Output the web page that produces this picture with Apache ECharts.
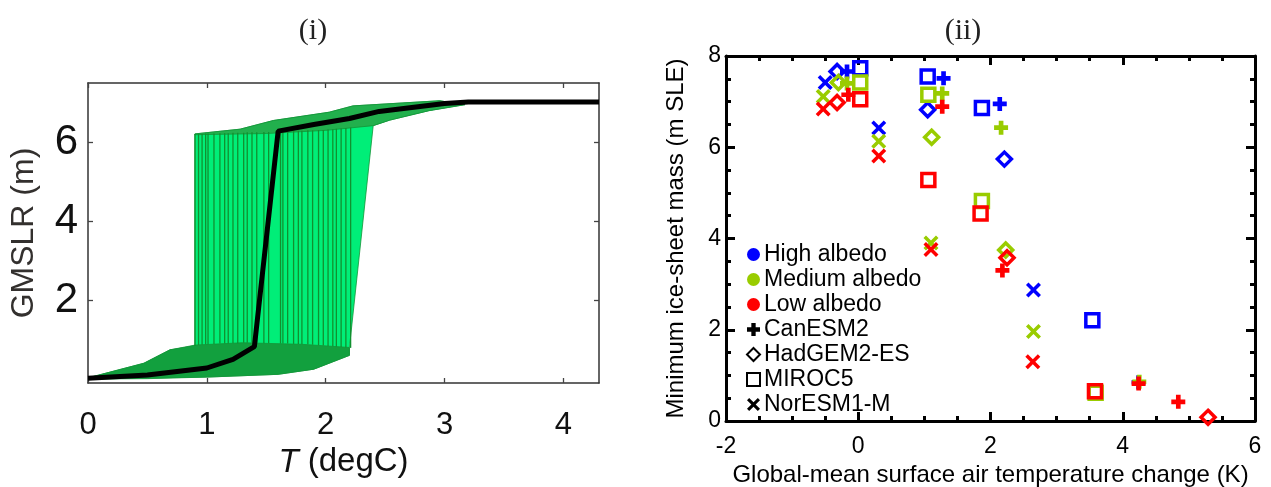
<!DOCTYPE html>
<html>
<head>
<meta charset="utf-8">
<script src="https://cdn.jsdelivr.net/npm/echarts@6/dist/echarts.min.js"></script>
<style>
	html, body { margin: 0; padding: 0; background: #fff; }
	#main { width: 1271px; height: 487px; }
</style>
</head>
<body>
<div id="main"></div>
<script>
	// ---- panel (i): GMSLR vs T ----
	// ensemble mean (black)
	const meanT = [0, 0.5, 1.0, 1.22, 1.4, 1.6, 1.9, 2.2, 2.45, 3.0, 3.2, 4.3];
	const meanSLR = [0.02, 0.1, 0.28, 0.5, 0.82, 6.28, 6.45, 6.6, 6.78, 6.98, 7.02, 7.02];

	// outline of the whole ensemble (bright green)
	const envT = [0, 0.47, 0.69, 0.9, 0.9, 1.28, 1.56, 2.03, 2.23, 2.96, 3.17, 2.87, 2.54, 2.4, 2.2, 2.2, 1.9, 1.6, 1.0, 0];
	const envSLR = [0.03, 0.4, 0.74, 0.84, 6.21, 6.33, 6.55, 6.76, 6.92, 7.05, 6.95, 6.8, 6.56, 6.42, 0.8, 0.6, 0.25, 0.12, 0.05, 0];

	// dense lower part (before the jump)
	const lowT = [0, 0.47, 0.69, 0.9, 1.3, 1.8, 2.2, 2.2, 1.9, 1.6, 1.0, 0.5, 0];
	const lowSLR = [0.03, 0.4, 0.74, 0.86, 0.92, 0.88, 0.8, 0.6, 0.25, 0.12, 0.05, 0.01, 0];

	// dense upper part (after the jump)
	const upT = [0.9, 1.28, 1.56, 2.03, 2.23, 2.96, 3.17, 2.87, 2.54, 2.4, 2.0, 1.5, 0.9];
	const upSLR = [6.21, 6.33, 6.55, 6.76, 6.92, 7.05, 6.95, 6.8, 6.56, 6.42, 6.3, 6.22, 6.19];

	// jump of each ensemble member
	const stepT = [0.90, 0.93, 0.96, 0.99, 1.01, 1.06, 1.11, 1.15, 1.18, 1.22, 1.26, 1.31, 1.34, 1.38, 1.42, 1.48, 1.52,
		1.62, 1.64, 1.68, 1.73, 1.77, 1.80, 1.85, 1.89, 1.94, 1.98, 2.02, 2.06, 2.09, 2.13, 2.17, 2.21];
	const stepLo = [0.84, 0.86, 0.87, 0.88, 0.88, 0.89, 0.9, 0.9, 0.9, 0.91, 0.91, 0.92, 0.92, 0.92, 0.92, 0.91, 0.91,
		0.9, 0.9, 0.9, 0.89, 0.89, 0.88, 0.88, 0.87, 0.86, 0.85, 0.84, 0.83, 0.82, 0.81, 0.8, 0.79];
	const stepHi = [6.21, 6.21, 6.21, 6.22, 6.22, 6.22, 6.23, 6.23, 6.23, 6.24, 6.24, 6.24, 6.25, 6.25, 6.25, 6.26, 6.26,
		6.27, 6.27, 6.28, 6.28, 6.29, 6.29, 6.3, 6.3, 6.31, 6.31, 6.32, 6.33, 6.34, 6.35, 6.36, 6.37];

	const leftXTicks = [0, 1, 2, 3, 4];
	const leftYTicks = [2, 4, 6];

	// ---- panel (ii): minimum ice-sheet mass vs warming ----
	// [temperature change (K), minimum mass (m SLE)]
	const canHigh = [[-0.17, 7.66], [1.29, 7.51], [2.14, 6.95], [4.24, 0.85]];
	const canMed = [[-0.17, 7.4], [1.27, 7.18], [2.16, 6.43], [4.25, 0.86]];
	const canLow = [[-0.15, 7.15], [1.27, 6.89], [2.18, 3.3], [4.24, 0.82], [4.84, 0.42]];

	const hadHigh = [[-0.32, 7.66], [1.05, 6.82], [2.21, 5.74]];
	const hadMed = [[-0.3, 7.42], [1.11, 6.22], [2.23, 3.75]];
	const hadLow = [[-0.32, 6.98], [2.25, 3.58], [5.29, 0.08]];

	const mirHigh = [[0.03, 7.73], [1.05, 7.55], [1.87, 6.86], [3.54, 2.21]];
	const mirMed = [[0.03, 7.42], [1.06, 7.15], [1.87, 4.82], [3.59, 0.62]];
	const mirLow = [[0.03, 7.05], [1.06, 5.28], [1.85, 4.55], [3.58, 0.65]];

	const norHigh = [[-0.5, 7.42], [0.31, 6.42], [2.65, 2.87]];
	const norMed = [[-0.53, 7.11], [0.31, 6.13], [1.1, 3.9], [2.65, 1.96]];
	const norLow = [[-0.53, 6.84], [0.31, 5.81], [1.1, 3.76], [2.64, 1.3]];

	const albedoNames = ['High albedo', 'Medium albedo', 'Low albedo'];
	const albedoColors = ['#0000ff', '#99cc00', '#ff0000'];
	const modelNames = ['CanESM2', 'HadGEM2-ES', 'MIROC5', 'NorESM1-M'];

	const symPlus = 'path://M-1,-3H1V-1H3V1H1V3H-1V1H-3V-1H-1Z';
	const symCross = 'path://M-3,-2L-2,-3L0,-1L2,-3L3,-2L1,0L3,2L2,3L0,1L-2,3L-3,2L-1,0Z';
	const symDiamond = 'path://M0,-1L1,0L0,1L-1,0Z';

	// marker look per model
	const modelSym = [
		{ symbol: symPlus, size: 14, hollow: false },
		{ symbol: symDiamond, size: 14, hollow: true },
		{ symbol: 'rect', size: 13, hollow: true },
		{ symbol: symCross, size: 15, hollow: false }
	];
	const modelData = [
		[canHigh, canMed, canLow],
		[hadHigh, hadMed, hadLow],
		[mirHigh, mirMed, mirLow],
		[norHigh, norMed, norLow]
	];

	function zip(xs, ys) {
		return xs.map(function (x, i) { return [x, ys[i]]; });
	}

	function polygonSeries(xs, ys, fill, z) {
		return {
			type: 'custom',
			xAxisIndex: 0,
			yAxisIndex: 0,
			silent: true,
			z: z,
			clip: true,
			data: [[0, 0]],
			renderItem: function (params, api) {
				let pts = xs.map(function (x, i) { return api.coord([x, ys[i]]); });
				return { type: 'polygon', shape: { points: pts }, style: { fill: fill, stroke: '#139437', lineWidth: 0.8 } };
			}
		};
	}

	function markStyle(k, color) {
		let m = modelSym[k];
		if (m.hollow) {
			return { color: 'transparent', borderColor: color, borderWidth: 3.5, opacity: 1 };
		}
		return { color: color, opacity: 1 };
	}

	let series = [];
	// green ensemble
	series.push(polygonSeries(envT, envSLR, '#00ee78', 1));
	series.push(polygonSeries(lowT, lowSLR, '#12a03e', 2));
	series.push(polygonSeries(upT, upSLR, '#22b04d', 2));
	series.push({
		type: 'custom',
		xAxisIndex: 0,
		yAxisIndex: 0,
		silent: true,
		z: 3,
		data: stepT.map(function (t, i) { return [t, stepLo[i], stepHi[i]]; }),
		encode: { x: 0, y: [1, 2] },
		renderItem: function (params, api) {
			let a = api.coord([api.value(0), api.value(1)]);
			let b = api.coord([api.value(0), api.value(2)]);
			return { type: 'line', shape: { x1: a[0], y1: a[1], x2: b[0], y2: b[1] }, style: { stroke: '#11902f', lineWidth: 1.3 } };
		}
	});
	// ensemble mean
	series.push({
		type: 'line',
		xAxisIndex: 0,
		yAxisIndex: 0,
		z: 5,
		symbol: 'none',
		silent: true,
		data: zip(meanT, meanSLR),
		lineStyle: { color: '#000', width: 5 }
	});

	// scatter points: per model, high / medium / low albedo
	for (let k = 0; k < modelData.length; k++) {
		for (let a = 0; a < 3; a++) {
			series.push({
				type: 'scatter',
				name: modelNames[k] + ' ' + albedoNames[a],
				xAxisIndex: 2,
				yAxisIndex: 2,
				z: 3 + a,
				silent: true,
				symbol: modelSym[k].symbol,
				symbolSize: modelSym[k].size,
				itemStyle: markStyle(k, albedoColors[a]),
				data: modelData[k][a]
			});
		}
	}
	// empty series only for the legend
	for (let a = 0; a < 3; a++) {
		series.push({
			type: 'scatter', name: albedoNames[a], xAxisIndex: 2, yAxisIndex: 2,
			symbol: 'circle', itemStyle: { color: albedoColors[a], opacity: 1 }, data: []
		});
	}
	for (let k = 0; k < modelNames.length; k++) {
		series.push({
			type: 'scatter', name: modelNames[k], xAxisIndex: 2, yAxisIndex: 2,
			symbol: modelSym[k].symbol, itemStyle: markStyle(k, '#000'), data: []
		});
	}

	const leftAxisLine = { show: true, onZero: false, lineStyle: { color: '#333', width: 1.5 } };
	const leftTick = { show: true, inside: true, length: 5, lineStyle: { color: '#444', width: 1.3 } };
	const rightAxisLine = { show: true, onZero: false, lineStyle: { color: '#000', width: 3 } };
	const rightTick = { show: true, inside: true, length: 9, lineStyle: { color: '#000', width: 3 } };
	const rightMinor = { show: true, splitNumber: 4, length: 5, lineStyle: { color: '#000', width: 3 } };

	let option = {
		animation: false,
		backgroundColor: '#fff',
		textStyle: { fontFamily: 'Liberation Sans, Arial, sans-serif' },
		title: [
			{ text: '(i)', left: 308, top: 11, textAlign: 'center',
				textStyle: { fontFamily: 'Liberation Serif, serif', fontSize: 30, fontWeight: 'normal', color: '#222' } },
			{ text: '(ii)', left: 958, top: 11, textAlign: 'center',
				textStyle: { fontFamily: 'Liberation Serif, serif', fontSize: 30, fontWeight: 'normal', color: '#222' } }
		],
		legend: {
			data: albedoNames.concat(modelNames),
			orient: 'vertical',
			left: 746,
			top: 243,
			padding: 0,
			itemGap: 2,
			itemWidth: 13,
			itemHeight: 13,
			selectedMode: false,
			textStyle: { fontSize: 23, color: '#000', padding: [0, 0, 0, -1] }
		},
		grid: [
			{ left: 88, right: 672, top: 83, bottom: 104, outerBoundsMode: 'none' },
			{ left: 726, right: 16, top: 56, bottom: 66, outerBoundsMode: 'none' }
		],
		xAxis: [
			{
				type: 'value', gridIndex: 0, position: 'bottom', min: 0, max: 4.3,
				axisLine: leftAxisLine, axisTick: Object.assign({ customValues: leftXTicks }, leftTick),
				splitLine: { show: false },
				axisLabel: { customValues: leftXTicks, fontSize: 31, color: '#111', margin: 27 },
				name: '{i|T} (degC)', nameLocation: 'middle', nameGap: 62,
				nameTextStyle: { fontSize: 33, color: '#111', rich: { i: { fontStyle: 'italic', fontSize: 33, color: '#111' } } }
			},
			{
				type: 'value', gridIndex: 0, position: 'top', min: 0, max: 4.3,
				axisLine: leftAxisLine, axisTick: Object.assign({ customValues: leftXTicks }, leftTick),
				splitLine: { show: false }, axisLabel: { show: false }
			},
			{
				type: 'value', gridIndex: 1, position: 'bottom', min: -2, max: 6, interval: 2,
				axisLine: rightAxisLine, axisTick: rightTick, minorTick: rightMinor,
				splitLine: { show: false },
				axisLabel: { fontSize: 23, color: '#000', margin: 14 },
				name: 'Global-mean surface air temperature change (K)', nameLocation: 'middle', nameGap: 40,
				nameTextStyle: { fontSize: 24, color: '#000' }
			},
			{
				type: 'value', gridIndex: 1, position: 'top', min: -2, max: 6, interval: 2,
				axisLine: rightAxisLine, axisTick: rightTick, minorTick: rightMinor,
				splitLine: { show: false }, axisLabel: { show: false }
			}
		],
		yAxis: [
			{
				type: 'value', gridIndex: 0, position: 'left', min: -0.1, max: 7.5,
				axisLine: leftAxisLine, axisTick: Object.assign({ customValues: leftYTicks }, leftTick),
				splitLine: { show: false },
				axisLabel: { customValues: leftYTicks, fontSize: 42, color: '#111', margin: 10 },
				name: 'GMSLR (m)', nameLocation: 'middle', nameGap: 48, nameRotate: 90,
				nameTextStyle: { fontSize: 32, color: '#33302e' }
			},
			{
				type: 'value', gridIndex: 0, position: 'right', min: -0.1, max: 7.5,
				axisLine: leftAxisLine, axisTick: Object.assign({ customValues: leftYTicks }, leftTick),
				splitLine: { show: false }, axisLabel: { show: false }
			},
			{
				type: 'value', gridIndex: 1, position: 'left', min: 0, max: 8, interval: 2,
				axisLine: rightAxisLine, axisTick: rightTick, minorTick: rightMinor,
				splitLine: { show: false },
				axisLabel: { fontSize: 23, color: '#000', margin: 5 },
				name: 'Minimum ice-sheet mass (m SLE)', nameLocation: 'middle', nameGap: 38, nameRotate: 90,
				nameTextStyle: { fontSize: 24, color: '#000' }
			},
			{
				type: 'value', gridIndex: 1, position: 'right', min: 0, max: 8, interval: 2,
				axisLine: rightAxisLine, axisTick: rightTick, minorTick: rightMinor,
				splitLine: { show: false }, axisLabel: { show: false }
			}
		],
		series: series
	};

	var myChart = echarts.init(document.getElementById('main'));
	myChart.setOption(option);
</script>
</body>
</html>
